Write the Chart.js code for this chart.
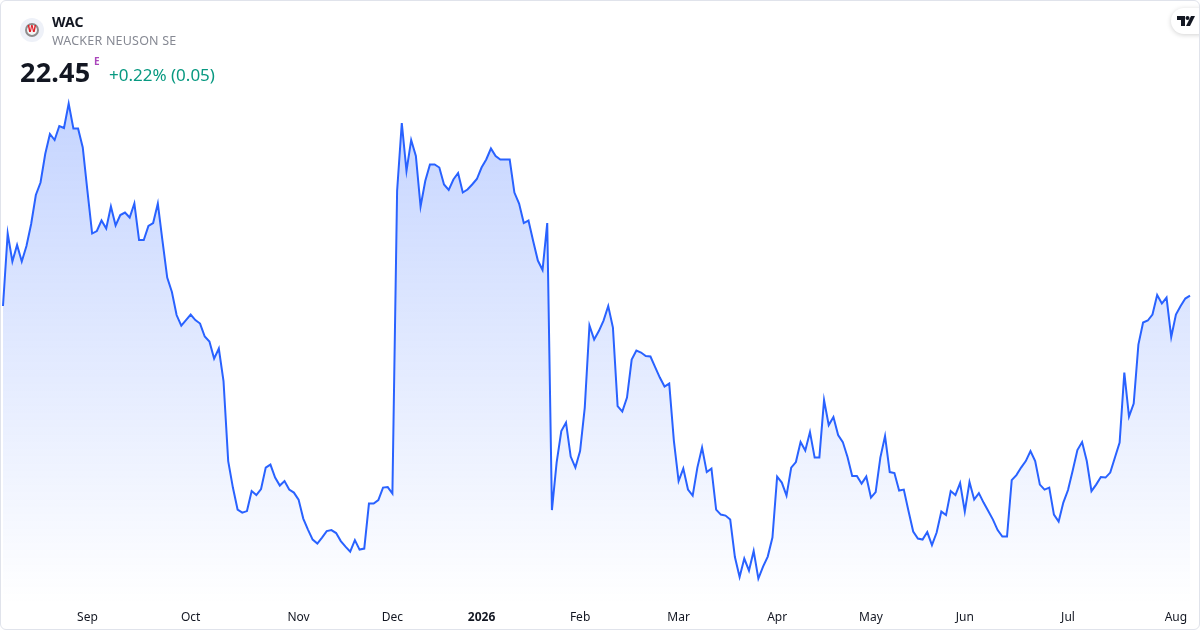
<!DOCTYPE html>
<html>
<head>
<meta charset="utf-8">
<script src="https://cdn.jsdelivr.net/npm/chart.js@4.4.1/dist/chart.umd.min.js"></script>
<style>
  body { margin: 0; background: #fff; font-family: "Noto Sans", "Open Sans", sans-serif; }
  #card { position: absolute; left: 0; top: 0; width: 1198px; height: 628px; border: 1px solid #e0e3eb; border-radius: 6px; overflow: hidden; background: #fff; }
  #chart_wac { position: absolute; left: -1px; top: -1px; }
  .logo { position: absolute; left: 19px; top: 17px; width: 24px; height: 24px; border-radius: 50%; background: #eef1f8; }
  .logo span { position: absolute; left: 5px; top: 5px; width: 10px; height: 10px; border-radius: 50%; border: 2px solid #8d8d8d; background: #f4f4f4; color: #e0202a; font: bold 8px "DejaVu Sans", sans-serif; line-height: 10px; text-align: center; }
  .sym { position: absolute; left: 51px; top: 11px; font-weight: bold; font-size: 14px; color: #131722; }
  .name { position: absolute; left: 51px; top: 31px; font-size: 12.5px; color: #868993; letter-spacing: 0.2px; }
  .price { position: absolute; left: 19px; top: 52px; font-weight: bold; font-size: 27px; color: #131722; letter-spacing: 0.2px; }
  .mark { position: absolute; left: 93px; top: 53px; font-weight: bold; font-size: 10px; color: #ab47bc; }
  .chg { position: absolute; left: 108px; top: 62px; font-size: 17px; color: #089981; }
  .tv { position: absolute; left: 1170px; top: 7px; width: 40px; height: 26px; border-radius: 13px; background: #fff; box-shadow: 0 1px 5px rgba(0,0,0,0.18); }
  .tv svg { position: absolute; left: 6px; top: 8px; }
</style>
</head>
<body>
<div id="card">
  <canvas id="chart_wac" width="1200" height="630"></canvas>
  <div class="logo"><span>W</span></div>
  <div class="sym">WAC</div>
  <div class="name">WACKER NEUSON SE</div>
  <div class="price">22.45</div>
  <div class="mark">E</div>
  <div class="chg">+0.22% (0.05)</div>
  <div class="tv"><svg width="18" height="10" viewBox="0 0 18 10"><path d="M0 0h8v10h-4v-6h-4z" fill="#131722"/><circle cx="10.5" cy="2" r="2" fill="#131722"/><path d="M14 0h4l-5 10h-4z" fill="#131722"/></svg></div>
</div>
<script>
const ctx = document.getElementById("chart_wac");

// trading days per month, first label sits on the first day of each month
const monthNames = ['', 'Sep', 'Oct', 'Nov', 'Dec', '2026', 'Feb', 'Mar', 'Apr', 'May', 'Jun', 'Jul', 'Aug'];
const monthDays = [18, 22, 23, 20, 19, 21, 21, 21, 20, 20, 22, 23, 4];

const closes = [
    22.24, 23.69, 23.13, 23.46, 23.13, 23.44, 23.88, 24.46, 24.71, 25.28,
    25.68, 25.56, 25.84, 25.80, 26.29, 25.79, 25.79, 25.41, 24.54, 23.69,
    23.74, 23.95, 23.79, 24.23, 23.85, 24.06, 24.11, 24.01, 24.29, 23.56,
    23.56, 23.84, 23.90, 24.29, 23.54, 22.81, 22.52, 22.06, 21.85, 21.96,
    22.07, 21.96, 21.89, 21.63, 21.53, 21.19, 21.39, 20.74, 19.14, 18.61,
    18.17, 18.11, 18.14, 18.54, 18.46, 18.58, 19.01, 19.07, 18.81, 18.65,
    18.74, 18.57, 18.51, 18.37, 17.99, 17.77, 17.57, 17.49, 17.61, 17.74,
    17.76, 17.70, 17.54, 17.43, 17.33, 17.56, 17.37, 17.39, 18.29, 18.29,
    18.36, 18.61, 18.62, 18.49, 24.54, 25.90, 24.94, 25.56, 25.24, 24.23,
    24.74, 25.07, 25.07, 25.01, 24.67, 24.56, 24.77, 24.90, 24.51, 24.57,
    24.67, 24.78, 25.01, 25.17, 25.39, 25.24, 25.17, 25.17, 25.17, 24.51,
    24.29, 23.90, 23.95, 23.54, 23.15, 22.96, 23.90, 18.16, 19.11, 19.74,
    19.91, 19.23, 19.01, 19.34, 20.21, 21.85, 21.57, 21.74, 21.95, 22.24,
    21.81, 20.24, 20.13, 20.41, 21.17, 21.35, 21.31, 21.24, 21.23, 21.02,
    20.81, 20.63, 20.69, 19.54, 18.74, 18.99, 18.57, 18.45, 19.01, 19.41,
    18.92, 18.99, 18.17, 18.07, 18.05, 17.97, 17.22, 16.82, 17.19, 16.95,
    17.34, 16.79, 17.03, 17.23, 17.61, 18.83, 18.71, 18.45, 19.01, 19.12,
    19.52, 19.35, 19.72, 19.21, 19.21, 20.36, 19.86, 20.02, 19.66, 19.52,
    19.22, 18.84, 18.84, 18.69, 18.83, 18.41, 18.52, 19.21, 19.64, 18.92,
    18.90, 18.55, 18.57, 18.14, 17.73, 17.59, 17.57, 17.72, 17.46, 17.71,
    18.13, 18.06, 18.54, 18.46, 18.70, 18.13, 18.72, 18.37, 18.50, 18.31,
    18.14, 17.97, 17.76, 17.63, 17.63, 18.76, 18.86, 19.01, 19.14, 19.34,
    19.14, 18.67, 18.57, 18.61, 18.07, 17.93, 18.31, 18.56, 18.95, 19.36,
    19.52, 19.14, 18.54, 18.67, 18.82, 18.81, 18.91, 19.21, 19.51, 20.91,
    20.03, 20.29, 21.47, 21.91, 21.95, 22.07, 22.46, 22.29, 22.41, 21.62,
    22.07, 22.24, 22.39, 22.45
];

const labels = [];
monthNames.forEach((name, m) => {
    for (let d = 0; d < monthDays[m]; d++) {
        labels.push(d == 0 ? name : '');
    }
});

function areaFill(context) {
    const area = context.chart.chartArea;
    if (!area) {
        return 'rgba(41, 98, 255, 0.2)';
    }
    const g = context.chart.ctx.createLinearGradient(0, area.top, 0, area.bottom);
    g.addColorStop(0, 'rgba(41, 98, 255, 0.28)');
    g.addColorStop(1, 'rgba(41, 98, 255, 0.0)');
    return g;
}

new Chart(ctx, {
    type: 'line',
    data: {
        labels: labels,
        datasets: [{
            data: closes,
            borderColor: '#2962FF',
            borderWidth: 2,
            backgroundColor: areaFill,
            fill: 'start',
            pointRadius: 0,
            tension: 0
        }]
    },
    options: {
        responsive: false,
        animation: false,
        layout: {
            autoPadding: false,
            padding: { left: 3, right: 10, top: 91, bottom: 5 }
        },
        plugins: {
            legend: { display: false },
            tooltip: { enabled: false }
        },
        scales: {
            x: {
                grid: { display: false, drawTicks: true, tickLength: 6 },
                border: { display: false },
                ticks: {
                    autoSkip: false,
                    maxRotation: 0,
                    padding: 0,
                    color: '#131722',
                    font: function(c) {
                        const isYear = c.tick && c.tick.label == '2026';
                        return { family: '"Noto Sans", sans-serif', size: 12, weight: isYear ? 'bold' : 'normal' };
                    }
                }
            },
            y: {
                display: false,
                min: 16.27,
                max: 26.54
            }
        }
    }
});
</script>
</body>
</html>
